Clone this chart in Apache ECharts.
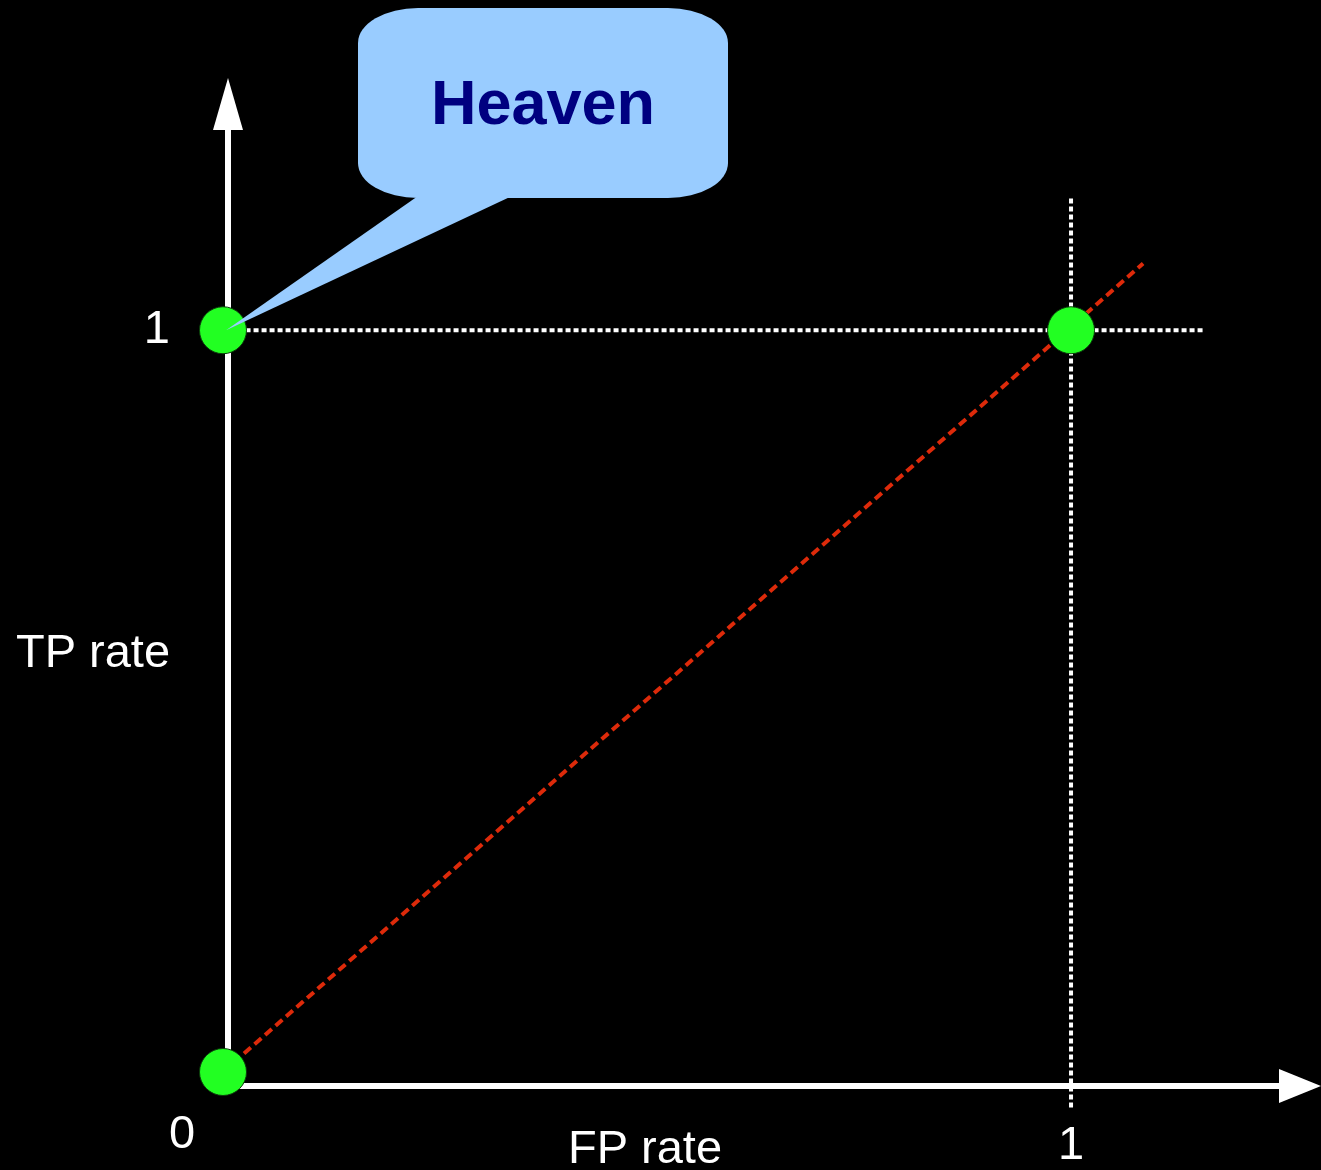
<!DOCTYPE html>
<html>
<head>
<meta charset="utf-8">
<title>ROC space</title>
<script src="https://cdn.jsdelivr.net/npm/echarts@6/dist/echarts.min.js"></script>
<style>
  html, body { margin: 0; padding: 0; background: #000; }
  #chart { width: 1321px; height: 1170px; }
</style>
</head>
<body>
<div id="chart"></div>
<script>
// corner points of ROC space
var pointX = [0, 0, 1];
var pointY = [0, 1, 1];
// random-guess diagonal (red dashed)
var diagX = [0, 1.085];
var diagY = [0, 1.09];
// dotted guides at TP=1 and FP=1
var hGuideX = [-0.03, 1.157];
var hGuideY = [1, 1];
var vGuideX = [1, 1];
var vGuideY = [-0.048, 1.18];
// tick labels
var xTickLabels = ['1'];
var yTickLabels = ['1'];
var originLabel = '0';
var xName = 'FP rate';
var yName = 'TP rate';
var calloutText = 'Heaven';

var FONT = 'Arial, Liberation Sans, sans-serif';

function zip(xs, ys) {
  return xs.map(function (x, i) { return [x, ys[i]]; });
}

var myChart = echarts.init(document.getElementById('chart'));

var option = {
  backgroundColor: '#000',
  animation: false,
  grid: { left: 223, top: 104, width: 1077, height: 968 },
  xAxis: {
    type: 'value',
    min: 0,
    max: 1.27,
    interval: 1,
    offset: 14,
    splitLine: { show: false },
    axisTick: { show: false },
    axisLine: {
      onZero: false,
      symbol: ['none', 'triangle'],
      symbolSize: [34, 42],
      lineStyle: { color: '#fff', width: 6 }
    },
    axisLabel: {
      color: '#fff',
      fontFamily: FONT,
      fontSize: 47,
      margin: 37,
      formatter: function (v) { return v === 1 ? xTickLabels[0] : ''; }
    }
  },
  yAxis: {
    type: 'value',
    min: 0,
    max: 1.305,
    interval: 1,
    offset: -5,
    splitLine: { show: false },
    axisTick: { show: false },
    axisLine: {
      onZero: false,
      symbol: ['none', 'triangle'],
      symbolSize: [30, 52],
      lineStyle: { color: '#fff', width: 6 }
    },
    axisLabel: {
      color: '#fff',
      fontFamily: FONT,
      fontSize: 47,
      margin: 58,
      padding: [6, 0, 0, 0],
      formatter: function (v) { return v === 1 ? yTickLabels[0] : ''; }
    }
  },
  series: [
    {
      name: 'tp1',
      type: 'line',
      data: zip(hGuideX, hGuideY),
      symbol: 'none',
      clip: false,
      silent: true,
      z: 3,
      lineStyle: { color: '#fff', width: 4, type: [5, 3] }
    },
    {
      name: 'fp1',
      type: 'line',
      data: zip(vGuideX, vGuideY),
      symbol: 'none',
      clip: false,
      silent: true,
      z: 3,
      lineStyle: { color: '#fff', width: 4, type: [5, 3] }
    },
    {
      name: 'diagonal',
      type: 'line',
      data: zip(diagX, diagY),
      symbol: 'none',
      clip: false,
      silent: true,
      z: 4,
      lineStyle: { color: '#dd2a0a', width: 4, type: [9, 5] }
    },
    {
      name: 'points',
      type: 'scatter',
      data: zip(pointX, pointY),
      symbolSize: 47,
      clip: false,
      z: 6,
      itemStyle: { color: '#22ff22', borderColor: '#0b3b0b', borderWidth: 1, opacity: 1 }
    }
  ]
};

myChart.setOption(option);

// speech bubble pointing at the (0, 1) corner
var tip = myChart.convertToPixel({ gridIndex: 0 }, [0, 1]);
var ry = 35, rx = 60; // elliptical corners: circle of rx squashed vertically
var sy = ry / rx;

myChart.setOption({
  graphic: [
    {
      type: 'group',
      x: 358,
      y: 8,
      scaleY: sy,
      z: 10,
      children: [{
        type: 'rect',
        shape: { x: 0, y: 0, width: 370, height: 190 / sy, r: rx },
        style: { fill: '#99ccff' }
      }]
    },
    {
      type: 'polygon',
      z: 10,
      shape: { points: [[418, 196], [512, 196], [tip[0] + 3, tip[1]]] },
      style: { fill: '#99ccff' }
    },
    {
      type: 'text',
      z: 11,
      x: 543,
      y: 107,
      style: {
        text: calloutText,
        fill: '#000080',
        font: 'bold 63px ' + FONT,
        textAlign: 'center',
        textVerticalAlign: 'middle'
      }
    },
    {
      type: 'text',
      x: 182,
      y: 1135,
      style: {
        text: originLabel,
        fill: '#fff',
        font: '47px ' + FONT,
        textAlign: 'center',
        textVerticalAlign: 'middle'
      }
    },
    {
      type: 'text',
      x: 93,
      y: 654,
      style: {
        text: yName,
        fill: '#fff',
        font: '47px ' + FONT,
        textAlign: 'center',
        textVerticalAlign: 'middle'
      }
    },
    {
      type: 'text',
      x: 645,
      y: 1150,
      style: {
        text: xName,
        fill: '#fff',
        font: '47px ' + FONT,
        textAlign: 'center',
        textVerticalAlign: 'middle'
      }
    }
  ]
});
</script>
</body>
</html>
